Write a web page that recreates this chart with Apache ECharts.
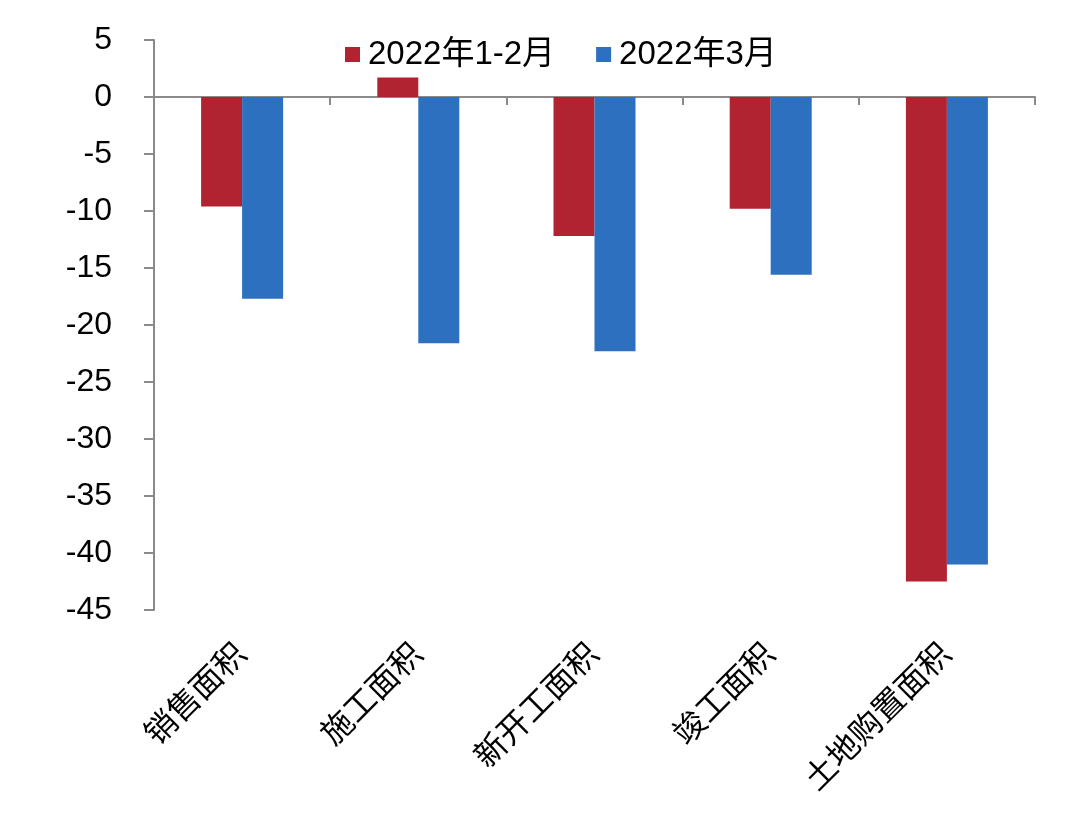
<!DOCTYPE html>
<html>
<head>
<meta charset="utf-8">
<script src="https://cdn.jsdelivr.net/npm/echarts@6/dist/echarts.min.js"></script>
<style>
html,body{margin:0;padding:0;background:#fff;}
#chart{width:1080px;height:821px;}
</style>
</head>
<body>
<div id="chart"></div>
<script>
var categories = ['销售面积', '施工面积', '新开工面积', '竣工面积', '土地购置面积'];
var seriesNames = ['2022年1-2月', '2022年3月'];
var valuesJanFeb = [-9.6, 1.7, -12.2, -9.8, -42.5];
var valuesMar = [-17.7, -21.6, -22.3, -15.6, -41.0];
var yTicks = { min: -45, max: 5, interval: 5 };

var FONT = "'Liberation Sans', Arial, 'Noto Sans CJK SC', sans-serif";
var AXIS_COLOR = '#8a8a8a';
var chart = echarts.init(document.getElementById('chart'), null, { renderer: 'canvas' });
chart.setOption({
  backgroundColor: '#ffffff',
  animation: false,
  legend: {
    data: seriesNames,
    left: 340,
    top: 33,
    icon: 'rect',
    itemWidth: 15,
    itemHeight: 15,
    itemGap: 41,
    textStyle: { fontSize: 33, color: '#000', fontFamily: FONT, padding: [0, 0, 0, 3] }
  },
  grid: { left: 154, right: 45, top: 40, bottom: 211, containLabel: false },
  xAxis: [{
    type: 'category',
    data: categories,
    position: 'bottom',
    axisLine: { show: true, onZero: true, lineStyle: { color: AXIS_COLOR, width: 2 } },
    axisTick: { show: true, length: 8, lineStyle: { color: AXIS_COLOR, width: 2 } },
    axisLabel: { show: false },
    splitLine: { show: false }
  }, {
    type: 'category',
    data: categories,
    position: 'bottom',
    axisLine: { show: false, onZero: false },
    axisTick: { show: false },
    axisLabel: { show: true, rotate: 45, margin: 40, fontSize: 32, color: '#000', fontFamily: FONT, interval: 0 },
    splitLine: { show: false }
  }],
  yAxis: {
    type: 'value',
    min: yTicks.min,
    max: yTicks.max,
    interval: yTicks.interval,
    axisLine: { show: true, lineStyle: { color: AXIS_COLOR, width: 2 } },
    axisTick: { show: true, length: 10, lineStyle: { color: AXIS_COLOR, width: 2 } },
    axisLabel: { margin: 42, fontSize: 32, color: '#000', fontFamily: FONT },
    splitLine: { show: false }
  },
  series: [{
    name: seriesNames[0],
    type: 'bar',
    xAxisIndex: 0,
    data: valuesJanFeb,
    barWidth: 41,
    barGap: '0%',
    itemStyle: { color: '#B12331' }
  }, {
    name: seriesNames[1],
    type: 'bar',
    xAxisIndex: 0,
    data: valuesMar,
    barWidth: 41,
    barGap: '0%',
    itemStyle: { color: '#2D70BF' }
  }]
});
</script>
</body>
</html>
